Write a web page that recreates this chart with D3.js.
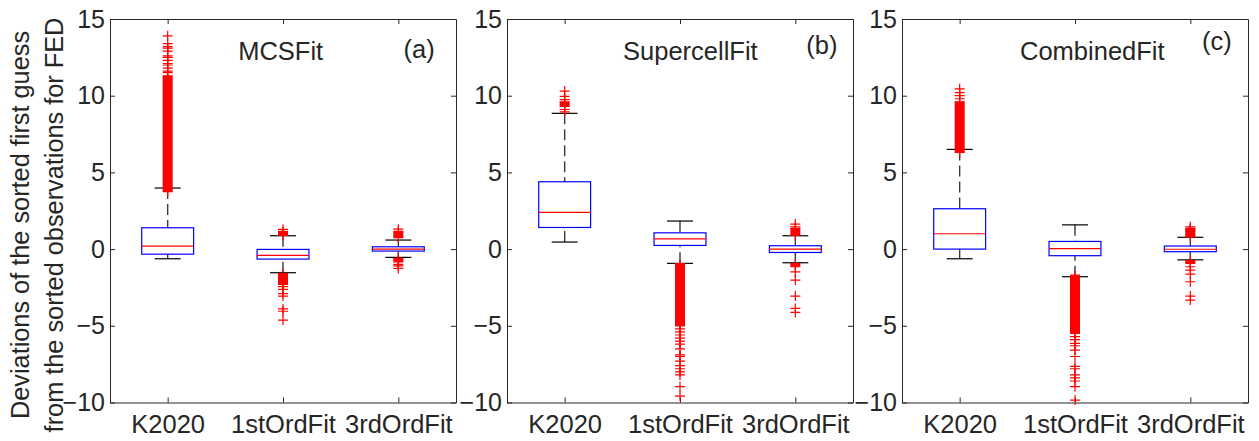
<!DOCTYPE html>
<html>
<head>
<meta charset="utf-8">
<script src="https://cdn.jsdelivr.net/npm/d3@7"></script>
<style>
  body { margin: 0; background: #fff; }
  svg text { font-family: "Liberation Sans", Arial, Helvetica, sans-serif; fill: #262626; }
</style>
</head>
<body>
<div id="graph"></div>
<script>
var categories = ["K2020", "1stOrdFit", "3rdOrdFit"];
var panelTitles = ["MCSFit", "SupercellFit", "CombinedFit"];
var panelTags = ["(a)", "(b)", "(c)"];
var yTicks = [-10, -5, 0, 5, 10, 15];
var yLabelLines = ["Deviations of the sorted first guess", "from the sorted observations for FED"];

// box statistics per panel, one value per category
var mcsQ1  = [-0.33, -0.65, -0.13];
var mcsMed = [0.20, -0.41, 0.00];
var mcsQ3  = [1.39, -0.02, 0.15];
var mcsLo  = [-0.63, -1.54, -0.54];
var mcsHi  = [3.98, 0.87, 0.59];

var supQ1  = [1.41, 0.24, -0.22];
var supMed = [2.39, 0.67, 0.00];
var supQ3  = [4.39, 1.06, 0.22];
var supLo  = [0.46, -0.93, -0.89];
var supHi  = [8.85, 1.83, 0.87];

var comQ1  = [0.00, -0.43, -0.17];
var comMed = [1.00, 0.03, -0.01];
var comQ3  = [2.63, 0.50, 0.20];
var comLo  = [-0.63, -1.80, -0.70];
var comHi  = [6.50, 1.58, 0.77];

// outliers so dense they merge into a solid column: [low, high] per category
var mcsDense = [[[3.75, 11.3]], [[0.9, 1.15], [-1.6, -2.3]], [[0.75, 1.15], [-0.6, -0.83]]];
var supDense = [[[9.3, 9.6]], [[-0.95, -5.0]], [[0.91, 1.35], [-0.95, -1.15]]];
var comDense = [[[6.3, 9.6]], [[-1.7, -5.5]], [[0.8, 1.35], [-0.75, -0.93]]];

// individual outliers
var mcsOut = [
  [11.5, 11.6, 11.8, 12.0, 12.1, 12.3, 12.5, 12.6, 12.9, 13.1, 13.2, 13.4, 13.9],
  [1.28, -2.45, -2.63, -2.9, -3.06, -3.9, -4.05, -4.63],
  [1.3, -1.0, -1.1, -1.26]
];
var supOut = [
  [8.95, 9.1, 9.75, 9.95, 10.3],
  [-5.2, -5.4, -5.6, -5.8, -6.0, -6.2, -6.5, -6.9, -7.0, -7.3, -7.6, -7.8, -8.0, -8.2, -8.97, -9.58],
  [1.45, 1.63, -1.48, -2.02, -3.06, -3.87, -4.13]
];
var comOut = [
  [9.8, 10.0, 10.2, 10.45],
  [-5.7, -5.9, -6.15, -6.3, -6.58, -7.0, -7.65, -7.8, -8.2, -8.4, -8.6, -8.97, -9.84],
  [1.15, 1.3, 1.45, -1.15, -1.37, -1.63, -2.13, -3.06, -3.32]
];

var panels = [
  {q1: mcsQ1, med: mcsMed, q3: mcsQ3, lo: mcsLo, hi: mcsHi, dense: mcsDense, out: mcsOut},
  {q1: supQ1, med: supMed, q3: supQ3, lo: supLo, hi: supHi, dense: supDense, out: supOut},
  {q1: comQ1, med: comMed, q3: comQ3, lo: comLo, hi: comHi, dense: comDense, out: comOut}
];

// layout
var W = 1259, H = 441;
var LEFTS = [110, 507, 902];
var PW = 346;
var TOP = 19, BOTTOM = 402.5;
var TITLE_X = [1.98, 2.09, 2.15];   // in category units, like a text() call
var TITLE_Y = 12.3;
var TAG_X = [3.18, 3.23, 3.23];
var TAG_Y = [12.45, 12.75, 12.95];
var AXIS = "#262626";

var svg = d3.select("#graph").append("svg")
  .attr("width", W).attr("height", H);

var yscale = d3.scaleLinear().domain([-10, 15]).range([BOTTOM, TOP]);

panels.forEach(function (p, k) {
  var x0 = LEFTS[k];
  var xscale = d3.scaleLinear().domain([0.5, 3.5]).range([x0, x0 + PW]);
  var bw = 0.45 * (xscale(2) - xscale(1));
  var cw = bw / 2;
  var g = svg.append("g");

  // axes, MATLAB style: ticks inward, mirrored
  var yl = d3.axisLeft(yscale).tickValues(yTicks).tickSizeInner(-5).tickSizeOuter(0).tickPadding(5);
  var yr = d3.axisRight(yscale).tickValues(yTicks).tickSizeInner(-5).tickSizeOuter(0).tickFormat("");
  var xb = d3.axisBottom(xscale).tickValues([1, 2, 3]).tickSizeInner(-5).tickSizeOuter(0).tickPadding(12)
    .tickFormat(function (d) { return categories[d - 1]; });
  var xt = d3.axisTop(xscale).tickValues([1, 2, 3]).tickSizeInner(-5).tickSizeOuter(0).tickFormat("");

  var gl = g.append("g").attr("transform", "translate(" + x0 + ",0)").call(yl);
  g.append("g").attr("transform", "translate(" + (x0 + PW) + ",0)").call(yr);
  var gb = g.append("g").attr("transform", "translate(0," + BOTTOM + ")").call(xb);
  g.append("g").attr("transform", "translate(0," + TOP + ")").call(xt);

  g.selectAll(".domain, .tick line").attr("stroke", AXIS).attr("stroke-width", 1);
  g.selectAll(".tick text").attr("fill", AXIS)
    .style("font-family", '"Liberation Sans", Arial, sans-serif');
  gl.selectAll(".tick text").attr("font-size", 25);
  gb.selectAll(".tick text").attr("font-size", 25.5);

  // boxes
  categories.forEach(function (c, i) {
    var cx = xscale(i + 1);

    // dashed whiskers
    g.append("line").attr("x1", cx).attr("x2", cx)
      .attr("y1", yscale(p.hi[i])).attr("y2", yscale(p.q3[i]))
      .attr("stroke", "#3a3a3a").attr("stroke-width", 1.4).attr("stroke-dasharray", "11,5");
    g.append("line").attr("x1", cx).attr("x2", cx)
      .attr("y1", yscale(p.lo[i])).attr("y2", yscale(p.q1[i]))
      .attr("stroke", "#3a3a3a").attr("stroke-width", 1.4).attr("stroke-dasharray", "11,5");

    // caps
    [p.hi[i], p.lo[i]].forEach(function (v) {
      g.append("line").attr("x1", cx - cw / 2).attr("x2", cx + cw / 2)
        .attr("y1", yscale(v)).attr("y2", yscale(v))
        .attr("stroke", "#000").attr("stroke-width", 1.2);
    });

    // box
    g.append("rect").attr("x", cx - bw / 2).attr("width", bw)
      .attr("y", yscale(p.q3[i])).attr("height", yscale(p.q1[i]) - yscale(p.q3[i]))
      .attr("fill", "none").attr("stroke", "#0000ff").attr("stroke-width", 1.2);

    // median
    g.append("line").attr("x1", cx - bw / 2).attr("x2", cx + bw / 2)
      .attr("y1", yscale(p.med[i])).attr("y2", yscale(p.med[i]))
      .attr("stroke", "#ff0000").attr("stroke-width", 1.2);

    // dense outlier columns
    p.dense[i].forEach(function (r) {
      var a = Math.max(r[0], r[1]), b = Math.min(r[0], r[1]);
      g.append("rect").attr("x", cx - 5).attr("width", 10)
        .attr("y", yscale(a)).attr("height", yscale(b) - yscale(a))
        .attr("fill", "#ff0000");
      [a, b].forEach(function (v) { plus(g, cx, yscale(v)); });
    });

    // single outliers
    p.out[i].forEach(function (v) { plus(g, cx, yscale(v)); });
  });

  g.append("text").attr("x", xscale(TITLE_X[k])).attr("y", yscale(TITLE_Y))
    .attr("text-anchor", "middle").attr("font-size", 25.5).text(panelTitles[k]);
  g.append("text").attr("x", xscale(TAG_X[k])).attr("y", yscale(TAG_Y[k]))
    .attr("text-anchor", "middle").attr("font-size", 25.5).text(panelTags[k]);
});

function plus(g, x, y) {
  g.append("path")
    .attr("d", "M" + (x - 5) + "," + y + "H" + (x + 5) + "M" + x + "," + (y - 5) + "V" + (y + 5))
    .attr("stroke", "#ff0000").attr("stroke-width", 1.2).attr("fill", "none");
}

// y label, two lines
var ylab = svg.append("text")
  .attr("transform", "translate(0,225) rotate(-90)")
  .attr("text-anchor", "middle").attr("font-size", 25.3);
ylab.append("tspan").attr("x", 0).attr("y", 29).text(yLabelLines[0]);
ylab.append("tspan").attr("x", 0).attr("y", 63).text(yLabelLines[1]);
</script>
</body>
</html>
